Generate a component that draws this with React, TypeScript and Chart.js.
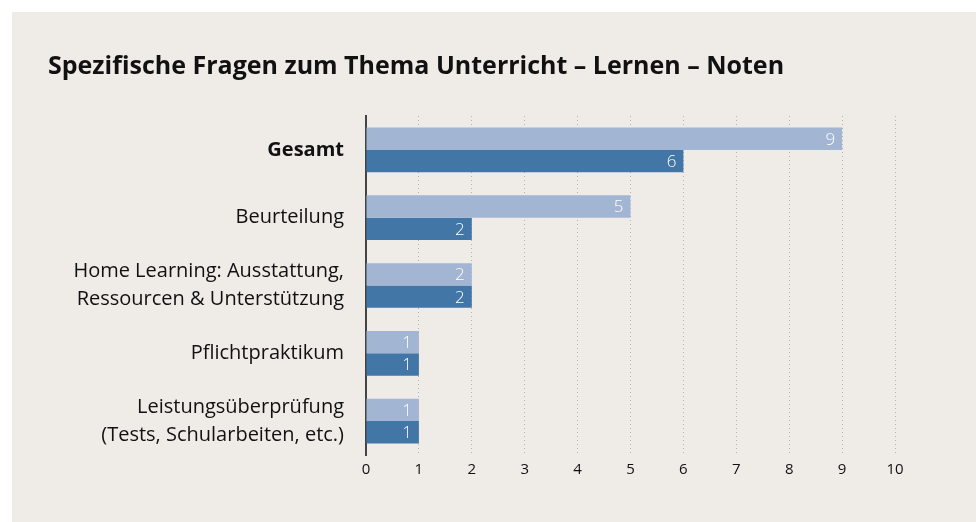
import React, { useEffect, useRef } from "react";
import { Chart, registerables } from "chart.js";

Chart.register(...registerables);

const categories: (string | string[])[] = [
  "Gesamt",
  "Beurteilung",
  ["Home Learning: Ausstattung,", "Ressourcen & Unterstützung"],
  "Pflichtpraktikum",
  ["Leistungsüberprüfung", "(Tests, Schularbeiten, etc.)"],
];
const seriesLight = [9, 5, 2, 1, 1];
const seriesDark = [6, 2, 2, 1, 1];
const xTicks = [0, 1, 2, 3, 4, 5, 6, 7, 8, 9, 10];
const titleText = "Spezifische Fragen zum Thema Unterricht – Lernen – Noten";

const FONT = "'Open Sans', sans-serif";

const valueLabels = {
  id: "valueLabels",
  afterDatasetsDraw(chart: any) {
    const ctx = chart.ctx;
    ctx.save();
    ctx.font = `300 17px ${FONT}`;
    ctx.fillStyle = "#ffffff";
    ctx.textAlign = "right";
    ctx.textBaseline = "middle";
    chart.data.datasets.forEach((ds: any, di: number) => {
      const meta = chart.getDatasetMeta(di);
      meta.data.forEach((bar: any, i: number) => {
        ctx.fillText(String(ds.data[i]), bar.x - 7, bar.y + 1);
      });
    });
    ctx.restore();
  },
};

export default function App() {
  const ref = useRef<HTMLCanvasElement | null>(null);
  useEffect(() => {
    document.body.style.margin = "0";
    document.body.style.overflow = "hidden";
    const chart = new Chart(ref.current as HTMLCanvasElement, {
      type: "bar",
      data: {
        labels: categories as any,
        datasets: [
          { data: seriesLight, backgroundColor: "#a2b5d3", barPercentage: 1, categoryPercentage: 0.66 },
          { data: seriesDark, backgroundColor: "#4276a6", barPercentage: 1, categoryPercentage: 0.66 },
        ],
      },
      options: {
        indexAxis: "y",
        animation: false,
        responsive: true,
        maintainAspectRatio: false,
        layout: { padding: { left: 36, right: 81, top: 0, bottom: 37 } },
        plugins: {
          legend: { display: false },
          tooltip: { enabled: false },
          title: {
            display: true,
            text: titleText,
            align: "start",
            color: "#111111",
            font: { family: FONT, size: 25, weight: "bold", lineHeight: 1.2 },
            padding: { top: 40, bottom: 34 },
          },
        },
        scales: {
          x: {
            type: "linear",
            min: 0,
            max: 10,
            afterBuildTicks: (scale: any) => {
              scale.ticks = xTicks.map((v) => ({ value: v }));
            },
            border: { display: false, dash: [1, 3] },
            grid: {
              drawTicks: false,
              color: (c: any) => (c.tick && c.tick.value === 0 ? "rgba(0,0,0,0)" : "#b5b2ad"),
              lineWidth: 1,
            },
            ticks: {
              padding: 6,
              color: "#111111",
              font: { family: FONT, size: 15 },
            },
          },
          y: {
            afterFit: (scale: any) => {
              scale.width = 318;
            },
            border: { display: true, color: "#444444", width: 2 },
            grid: { display: false, drawTicks: false },
            ticks: {
              padding: 22,
              color: "#111111",
              font: (c: any) => ({
                family: FONT,
                size: 20,
                weight: c.index === 0 ? "bold" : "normal",
                lineHeight: "28px",
              }),
            },
          },
        },
      } as any,
      plugins: [valueLabels],
    });
    return () => chart.destroy();
  }, []);
  return (
    <div
      style={{
        position: "absolute",
        left: 12,
        top: 12,
        width: 964,
        height: 510,
        background: "#efece8",
      }}
    >
      <canvas ref={ref} />
    </div>
  );
}
